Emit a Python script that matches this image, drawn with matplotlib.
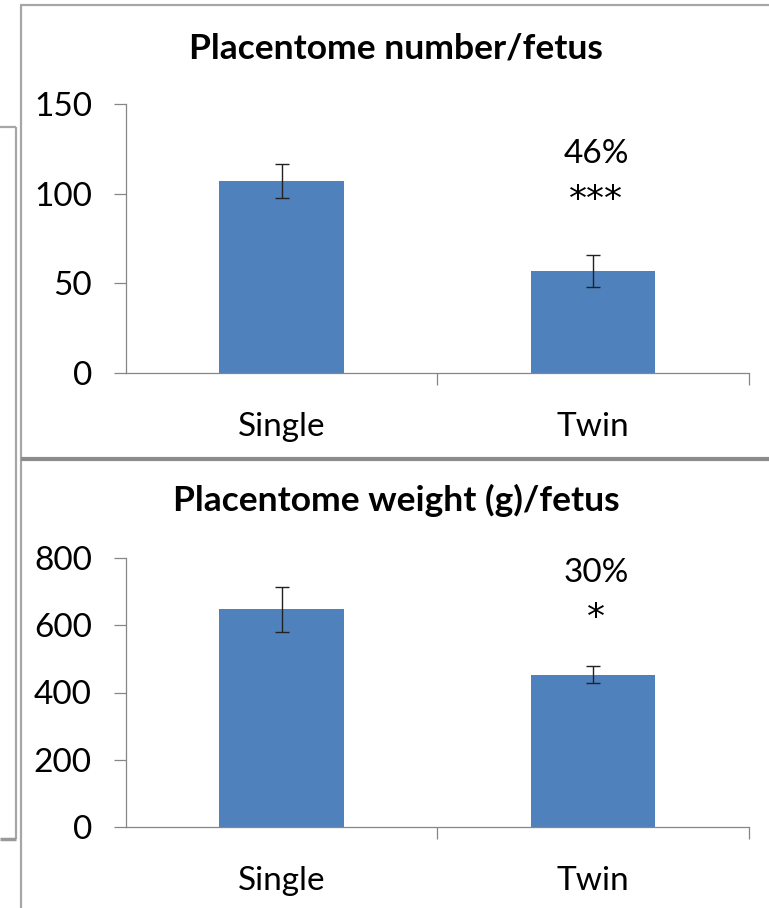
import matplotlib.pyplot as plt
from matplotlib.lines import Line2D

W, H = 769, 908

categories = ['Single', 'Twin']
number_mean = [107, 57]
number_se = [9.5, 9]
weight_mean = [648, 453]
weight_se = [67, 25]

titles = ['Placentome number/fetus', 'Placentome weight (g)/fetus']
change_labels = ['46%', '30%']
sig_labels = ['***', '*']

plt.rcParams['font.family'] = ['Lato', 'DejaVu Sans']

BAR = '#4F81BD'
AXC = '#868686'


def px(x, y):
    return x / W, 1 - y / H


fig = plt.figure(figsize=(W / 100, H / 100), dpi=100)


def panel(y_top, y_zero, ymax, step, means, ses, title, title_y, change, sig, change_y, sig_y):
    l, b = px(126, y_zero)
    r, t = px(748.5, y_top)
    ax = fig.add_axes([l, b, r - l, t - b])
    ax.bar(range(len(categories)), means, width=0.4, color=BAR, zorder=2)
    ax.errorbar(range(len(categories)), means, yerr=ses, fmt='none',
                ecolor='#222222', elinewidth=1, capsize=5, capthick=1, zorder=3)
    ax.set_xlim(-0.5, 1.5)
    ax.set_ylim(0, ymax)
    ax.set_yticks(range(0, ymax + 1, step))
    ax.set_xticks(range(len(categories)))
    ax.set_xticklabels(categories)
    ax.set_xticks([0.5, 1.5], minor=True)
    for s in ['top', 'right']:
        ax.spines[s].set_visible(False)
    for s in ['left', 'bottom']:
        ax.spines[s].set_color(AXC)
        ax.spines[s].set_linewidth(0.9)
    ax.tick_params(axis='y', length=8.6, width=0.9, color=AXC, pad=16, labelsize=24)
    ax.tick_params(axis='x', which='major', length=0, pad=28, labelsize=24)
    ax.tick_params(axis='x', which='minor', length=8.6, width=0.9, color=AXC)
    ax.text(1.01, change_y, change, ha='center', va='center', fontsize=24)
    # asterisks drawn in DejaVu, closer to the six-spoke glyph of the original
    ax.text(1.01, sig_y, sig, ha='center', va='baseline', fontsize=26,
            family='DejaVu Sans')
    fig.text(*px(396, title_y), title, ha='center', va='center',
             fontsize=25.5, fontweight='bold')
    return ax


panel(104, 373, 150, 50, number_mean, number_se, titles[0], 48,
      change_labels[0], sig_labels[0], 122, 91)
panel(558, 827, 800, 200, weight_mean, weight_se, titles[1], 500,
      change_labels[1], sig_labels[1], 755, 592)

# frame lines from the slide
def line(xs, ys, lw, c):
    fig.add_artist(Line2D([x / W for x in xs], [1 - y / H for y in ys],
                          lw=lw, color=c, solid_capstyle='butt'))

line([20, 769], [5, 5], 1.6, '#a6a6a6')
line([20.5, 20.5], [5, 908], 1.6, '#a6a6a6')
line([20.5, 769], [459, 459], 3, '#8c8c8c')
line([0, 16], [127, 127], 1.6, '#a6a6a6')
line([16, 16], [127, 839], 1.6, '#a6a6a6')
line([0, 16], [839, 839], 2.5, '#999999')

fig.savefig('out.png', dpi=100)
